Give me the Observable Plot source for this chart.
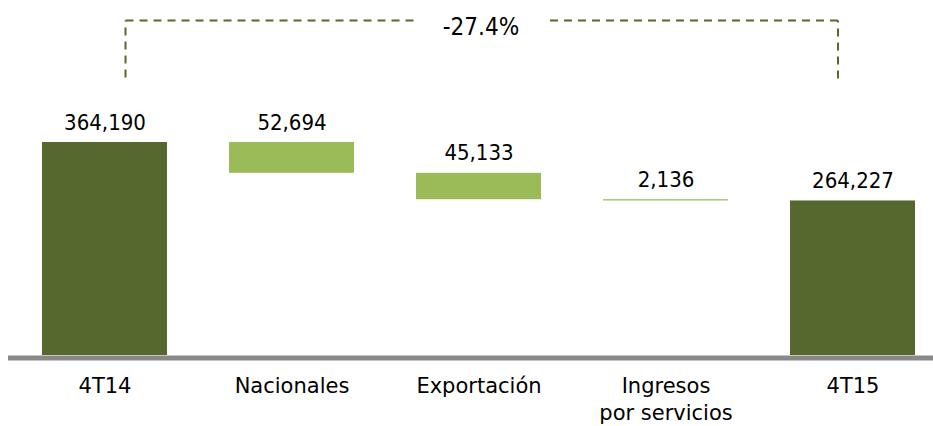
<!DOCTYPE html>
<html>
<head>
<meta charset="utf-8">
<script src="https://cdn.jsdelivr.net/npm/d3@7"></script>
<script src="https://cdn.jsdelivr.net/npm/@observablehq/plot@0.6"></script>
<style>
  html, body { margin: 0; padding: 0; background: #fff; }
  #chart svg { display: block; }
</style>
</head>
<body>
<div id="chart"></div>
<script>
// Categories and values (thousands)
const categories = ["4T14", "Nacionales", "Exportación", "Ingresos por servicios", "4T15"];
const axisLabels = ["4T14", "Nacionales", "Exportación", "Ingresos\npor servicios", "4T15"];
const values = [364190, -52694, -45133, -2136, 264227];
const kinds = ["total", "delta", "delta", "delta", "total"];
const valueLabels = ["364,190", "52,694", "45,133", "2,136", "264,227"];
const changeLabel = "-27.4%";
// bracket levels (in value units)
const bracketLevel = 572800;
const bracketLegEnd = [475300, 473600];

// build waterfall table
let run = 0;
const rows = categories.map((c, i) => {
  let y1, y2;
  if (kinds[i] === "total") { y1 = 0; y2 = values[i]; run = values[i]; }
  else { y1 = run; y2 = run + values[i]; run = y2; }
  return {cat: c, label: axisLabels[i], text: valueLabels[i], kind: kinds[i], y1, y2, top: Math.max(y1, y2)};
});

const dark = "#57682f";
const light = "#9bbb59";
const dash = "#566a2c";

const first = categories[0], last = categories[categories.length - 1], mid = categories[2];

const chart = Plot.plot({
  width: 933,
  height: 426,
  marginLeft: 8,
  marginRight: 0,
  marginTop: 0,
  marginBottom: 71,
  style: {fontFamily: "'DejaVu Sans', sans-serif", fontSize: "21px", color: "#000", background: "#fff"},
  x: {domain: categories, paddingInner: 0.33, paddingOuter: 0.128, align: 0.664, axis: null},
  y: {domain: [0, 606983], axis: null},
  marks: [
    Plot.barY(rows, {x: "cat", y1: "y1", y2: "y2", fill: d => d.kind === "total" ? dark : light, inset: 0}),
    Plot.ruleY([0], {stroke: "#898989", strokeWidth: 5, dy: 2.5}),
    Plot.text(rows, {x: "cat", y: "top", text: "text", dy: -20, lineAnchor: "middle",
      fontFamily: "'DejaVu Sans Condensed', 'DejaVu Sans', sans-serif", fontSize: 22, fill: "#000"}),
    Plot.text(rows, {x: "cat", y: 0, text: "label", dy: 18, lineAnchor: "top", lineHeight: 1.3,
      fontSize: 21, fill: "#000"}),
    // bracket
    Plot.link([{x: first, y1: bracketLegEnd[0], y2: bracketLevel}], {x1: "x", x2: "x", y1: "y1", y2: "y2", dx: 20.5,
      stroke: dash, strokeWidth: 2, strokeDasharray: "8,6"}),
    Plot.link([{x: last, y1: bracketLegEnd[1], y2: bracketLevel}], {x1: "x", x2: "x", y1: "y1", y2: "y2", dx: -15,
      stroke: dash, strokeWidth: 2, strokeDasharray: "8,6"}),
    Plot.link([{a: first, b: mid, y: bracketLevel}], {x1: "a", x2: "b", y1: "y", y2: "y", dx: 20.5,
      stroke: dash, strokeWidth: 2, strokeDasharray: "8,6"}),
    Plot.link([{a: mid, b: last, y: bracketLevel}], {x1: "b", x2: "a", y1: "y", y2: "y", dx: -15,
      stroke: dash, strokeWidth: 2, strokeDasharray: "8,6"}),
    Plot.text([changeLabel], {x: () => mid, y: () => bracketLevel, text: d => d, dx: 2, dy: 6.5, lineAnchor: "middle",
      fontFamily: "'Liberation Sans Narrow', 'DejaVu Sans Condensed', sans-serif", fontSize: 24,
      fill: "white", stroke: "white", strokeWidth: 56, strokeLinejoin: "round"}),
    Plot.text([changeLabel], {x: () => mid, y: () => bracketLevel, text: d => d, dx: 2, dy: 6.5, lineAnchor: "middle",
      fontFamily: "'Liberation Sans Narrow', 'DejaVu Sans Condensed', sans-serif", fontSize: 24, fill: "#000"})
  ]
});
document.getElementById("chart").appendChild(chart);
</script>
</body>
</html>
